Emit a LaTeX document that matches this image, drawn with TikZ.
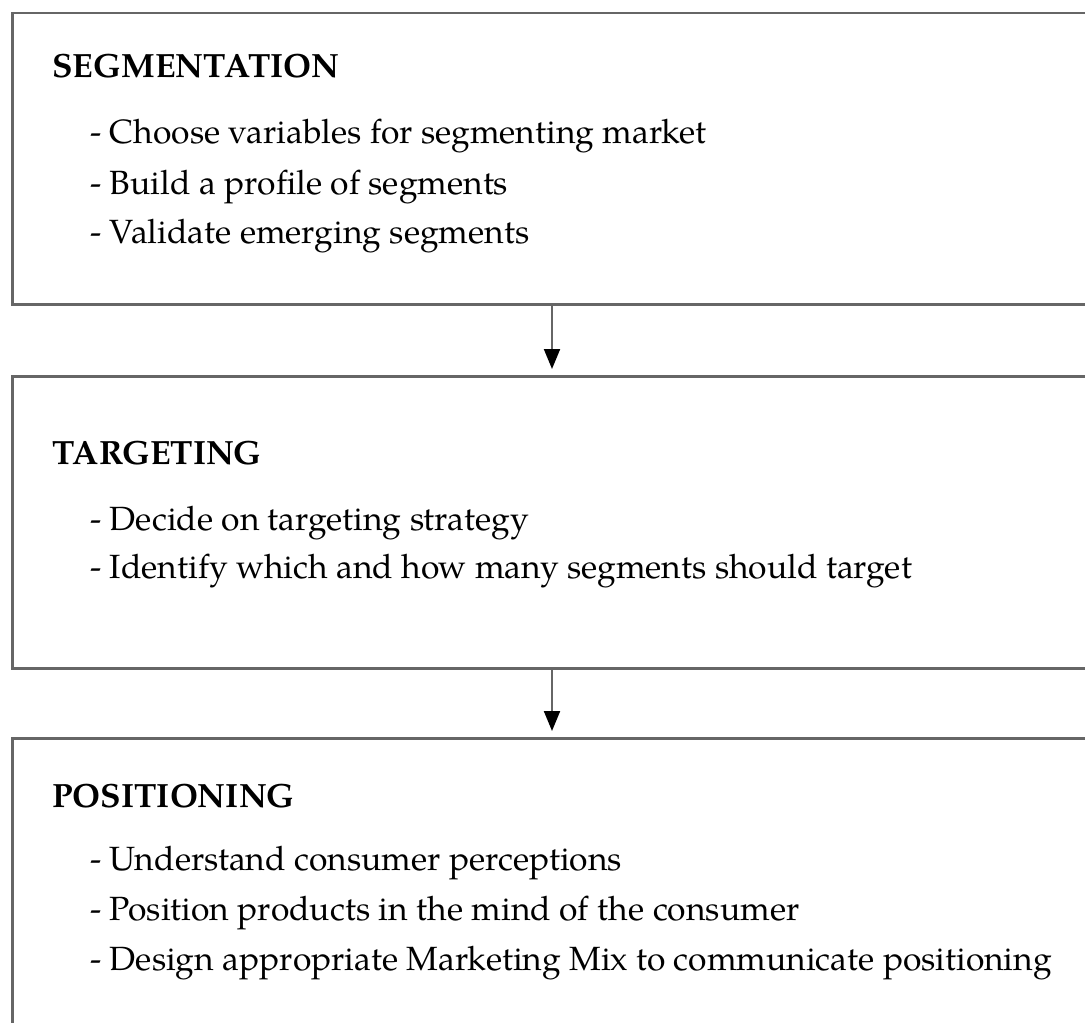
\documentclass[tikz,border=0pt]{standalone}
\usepackage{fontspec}
\setmainfont{TeX Gyre Pagella}
\usetikzlibrary{arrows.meta}
\definecolor{boxgray}{HTML}{666666}
\tikzset{
  stagebox/.style={draw=boxgray, line width=1.25pt, anchor=north west, inner sep=0pt, minimum width=545pt, minimum height=#1},
  title/.style={anchor=base west, inner sep=0pt, font=\fontsize{16.8pt}{20pt}\selectfont\bfseries},
  item/.style={anchor=base west, inner sep=0pt, font=\fontsize{16.8pt}{20pt}\selectfont},
  flow/.style={draw=boxgray, line width=1pt, -{Triangle[width=8pt,length=10pt,color=black]}}
}
\begin{document}
\begin{tikzpicture}[x=0.5pt,y=-0.5pt]
\useasboundingbox (0,0) rectangle (1085,1022);
\clip (0,0) rectangle (1085,1022);
\fill[white] (0,0) rectangle (1085,1022);
% boxes
\node[stagebox=145.5pt] (seg) at (11,12) {};
\node[stagebox=146pt] (tar) at (11,375) {};
\node[stagebox=160pt] (pos) at (11,737) {};
% arrow axis
\coordinate (ax) at (552,0);
\draw[flow] (seg.south west -| ax) -- ([yshift=3pt]tar.north west -| ax);
\draw[flow] (tar.south west -| ax) -- ([yshift=3pt]pos.north west -| ax);
% texts
\node[title] (segt) at (52,78) {SEGMENTATION};
\node[item] (s1) at (90,143) {- Choose variables for segmenting market};
\node[item] (s2) at (90,194) {- Build a profile of segments};
\node[item] (s3) at (90,243) {- Validate emerging segments};
\node[title] (tart) at (52,464) {TARGETING};
\node[item] (t1) at (90,530) {- Decide on targeting strategy};
\node[item] (t2) at (90,578) {- Identify which and how many segments should target};
\node[title] (post) at (52,807) {POSITIONING};
\node[item] (p1) at (90,870) {- Understand consumer perceptions};
\node[item] (p2) at (90,920) {- Position products in the mind of the consumer};
\node[item] (p3) at (90,970) {- Design appropriate Marketing Mix to communicate positioning};
\end{tikzpicture}
\end{document}
